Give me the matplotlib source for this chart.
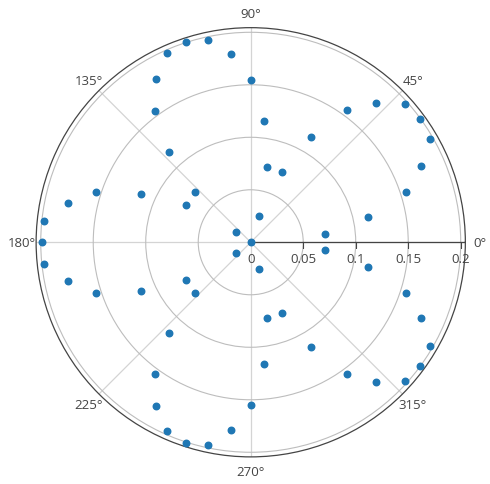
import numpy as np
import matplotlib
matplotlib.use("Agg")
import matplotlib.pyplot as plt
from matplotlib.transforms import offset_copy

# angles in degrees and radius values
theta_deg = [0, 6, 12, 18, 24, 30, 36, 42, 48, 54, 60, 66, 72, 78, 84, 90,
             96, 102, 108, 114, 120, 126, 132, 138, 144, 150, 156, 162, 168, 174, 180,
             186, 192, 198, 204, 210, 216, 222, 228, 234, 240, 246, 252, 258, 264, 270,
             276, 282, 288, 294, 300, 306, 312, 318, 324, 330, 336, 342, 348, 354]
r_vals = [0.0, 0.071, 0.1145, 0.155, 0.178, 0.1975, 0.1997, 0.1973, 0.1788, 0.1554,
          0.1157, 0.0733, 0.0266, 0.0737, 0.1165, 0.155,
          0.180, 0.197, 0.201, 0.197, 0.180, 0.155, 0.116, 0.072, 0.017, 0.0715,
          0.114, 0.155, 0.178, 0.198, 0.199,
          0.198, 0.178, 0.155, 0.114, 0.0715, 0.017, 0.072, 0.116, 0.155, 0.180,
          0.197, 0.201, 0.197, 0.180, 0.155,
          0.1165, 0.0737, 0.0266, 0.0733, 0.1157, 0.1554, 0.1788, 0.1973, 0.1997,
          0.1975, 0.178, 0.155, 0.1145, 0.071]

r_ticks = [0.05, 0.1, 0.15, 0.2]
r_tick_labels = ["0.05", "0.1", "0.15", "0.2"]
angle_ticks = [0, 45, 90, 135, 180, 225, 270, 315]
r_max = 0.2044

plt.rcParams['font.family'] = ['Open Sans', 'DejaVu Sans']
fig = plt.figure(figsize=(4.9, 4.85), dpi=100)
ax = fig.add_axes([0.0737, 0.0559, 0.876, 0.885], projection='polar')

ax.set_ylim(0, r_max)
ax.set_yticks(r_ticks)
ax.set_yticklabels([])
ax.set_thetagrids(angle_ticks, ["%d°" % a for a in angle_ticks])
ax.tick_params(axis='x', direction='out', length=5, width=0.8, color='#444444',
               labelsize=9.5, labelcolor='#444444', pad=-1.5)
ax.xaxis.grid(True, color='#d4d4d4', linewidth=0.9)
ax.yaxis.grid(True, color='#bdbdbd', linewidth=0.8)
ax.spines['polar'].set_color('#444444')
ax.spines['polar'].set_linewidth(0.9)

# radial axis line along 0 degrees with tick marks and labels below
ax.plot([0, 0], [0, r_max], color='#444444', linewidth=0.9, zorder=2)
ax.plot(np.zeros(len(r_ticks)), r_ticks, linestyle='none', marker=3,
        markersize=4, color='#444444', markeredgewidth=0.8, zorder=2)
lbl_tr = offset_copy(ax.transData, fig=fig, y=-12, units='points')
ax.text(0, 0, "0", transform=lbl_tr, ha='center', va='center',
        fontsize=9.5, color='#444444')
for r, lab in zip(r_ticks, r_tick_labels):
    ax.text(0, r, lab, transform=lbl_tr, ha='center', va='center',
            fontsize=9.5, color='#444444')

ax.scatter(np.deg2rad(theta_deg), r_vals, s=22, color='#1f77b4', zorder=3,
           clip_on=False)

fig.savefig("out.png", dpi=100)
